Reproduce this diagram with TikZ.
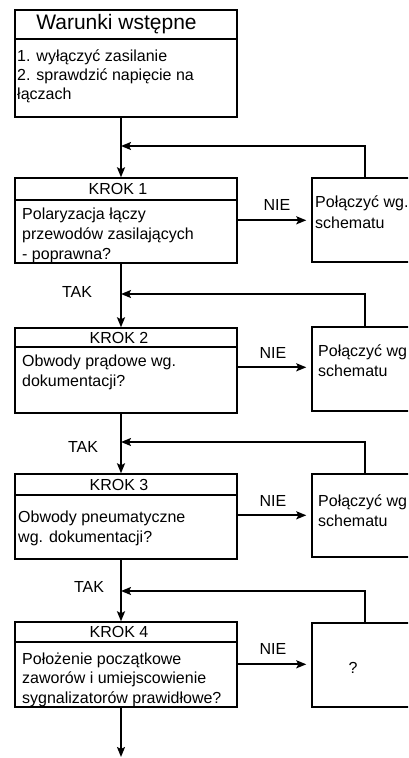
\documentclass[tikz,border=0pt]{standalone}
\usepackage{fontspec}
\setmainfont{Liberation Sans}
\usetikzlibrary{arrows.meta,calc}
\begin{document}
\begin{tikzpicture}[x=1pt,y=-1pt,
  box/.style={draw, line width=1.4pt, inner sep=0pt, minimum width=222pt},
  rbox/.style={draw, line width=1.4pt, inner sep=0pt, minimum width=106pt},
  conn/.style={line width=1.8pt, -{Stealth[length=10pt,width=8pt,inset=2pt]}},
  lbl/.style={font=\fontsize{16}{19}\selectfont, inner sep=0pt},
  bodytxt/.style={inner sep=0pt, align=left, anchor=north west},
]
\clip (0,0) rectangle (408,758);
\fill[white] (0,0) rectangle (408,758);
\coordinate (spine) at (121,0);

% Warunki wstepne
\node[box, minimum height=29pt] (w-head) at (126,24.5) {};
\node[box, minimum height=78pt] (w-body) at (126,78) {};
\node[inner sep=0pt, font=\fontsize{21}{24}\selectfont] (w-title) at (116.5,24) {Warunki wstępne};
\node[bodytxt, font=\fontsize{16}{19}\selectfont] (w-text) at (17,47.7) {\strut 1. wyłączyć zasilanie\\\strut 2. sprawdzić napięcie na\\\strut łączach};

% KROK 1
\node[box, minimum height=22pt] (k1-head) at (126,189) {};
\node[box, minimum height=63pt] (k1-body) at (126,231.5) {};
\node[lbl] (k1-title) at (118,189) {KROK 1};
\node[bodytxt, font=\fontsize{16}{20}\selectfont] (k1-text) at (22,205) {\strut Polaryzacja łączy\\\strut przewodów zasilających\\\strut - poprawna?};
\node[rbox, minimum height=84pt] (r1) at (365,220) {};
\node[bodytxt, font=\fontsize{16}{21}\selectfont] (r1-text) at (315,192.3) {\strut Połączyć wg.\\\strut schematu};
\node[lbl] (nie1) at (277,205) {NIE};
\node[lbl] (tak1) at (77,292) {TAK};

% KROK 2
\node[box, minimum height=19pt] (k2-head) at (126,337.5) {};
\node[box, minimum height=66pt] (k2-body) at (126,380) {};
\node[lbl] (k2-title) at (119,337.5) {KROK 2};
\node[bodytxt, font=\fontsize{16}{20}\selectfont] (k2-text) at (22,352) {\strut Obwody prądowe wg.\\\strut dokumentacji?};
\node[rbox, minimum height=84pt] (r2) at (365,369) {};
\node[bodytxt, font=\fontsize{16}{20}\selectfont] (r2-text) at (318,342) {\strut Połączyć wg\\\strut schematu};
\node[lbl] (nie2) at (273,353) {NIE};
\node[lbl] (tak2) at (83,447) {TAK};

% KROK 3
\node[box, minimum height=21pt] (k3-head) at (126,484.5) {};
\node[box, minimum height=64pt] (k3-body) at (126,527) {};
\node[lbl] (k3-title) at (119,484.5) {KROK 3};
\node[bodytxt, font=\fontsize{16}{20.5}\selectfont] (k3-text) at (18,507.6) {\strut Obwody pneumatyczne\\\strut wg. dokumentacji?};
\node[rbox, minimum height=83pt] (r3) at (365,515.5) {};
\node[bodytxt, font=\fontsize{16}{20}\selectfont] (r3-text) at (318,492) {\strut Połączyć wg\\\strut schematu};
\node[lbl] (nie3) at (273,501) {NIE};
\node[lbl] (tak3) at (89,587) {TAK};

% KROK 4
\node[box, minimum height=20pt] (k4-head) at (126,632) {};
\node[box, minimum height=65pt] (k4-body) at (126,674.5) {};
\node[lbl] (k4-title) at (119,632) {KROK 4};
\node[bodytxt, font=\fontsize{16}{19.5}\selectfont] (k4-text) at (22,650.3) {\strut Położenie początkowe\\\strut zaworów i umiejscowienie\\\strut sygnalizatorów prawidłowe?};
\node[rbox, minimum height=84pt] (r4) at (365,665) {};
\node[lbl] (r4-text) at (353,668) {?};
\node[lbl] (nie4) at (273,649) {NIE};

% junctions
\coordinate (j1) at (121,146);
\coordinate (j2) at (121,294);
\coordinate (j3) at (121,442);
\coordinate (j4) at (121,591);
\coordinate (endpt) at (121,757);

% main flow
\draw[conn] (w-body.south -| spine) -- (k1-head.north -| spine);
\draw[conn] (k1-body.south -| spine) -- (k2-head.north -| spine);
\draw[conn] (k2-body.south -| spine) -- (k3-head.north -| spine);
\draw[conn] (k3-body.south -| spine) -- (k4-head.north -| spine);
\draw[conn] (k4-body.south -| spine) -- (endpt);

% NIE branches
\draw[conn, shorten >=5pt] ([yshift=-21pt]k1-body.north east) -- ([yshift=-21pt]k1-body.north east -| r1.west);
\draw[conn, shorten >=5pt] ([yshift=-21pt]k2-body.north east) -- ([yshift=-21pt]k2-body.north east -| r2.west);
\draw[conn, shorten >=5pt] ([yshift=-21pt]k3-body.north east) -- ([yshift=-21pt]k3-body.north east -| r3.west);
\draw[conn, shorten >=5pt] ([yshift=-23pt]k4-body.north east) -- ([yshift=-23pt]k4-body.north east -| r4.west);

% feedback
\draw[conn] (r1.north) |- (j1);
\draw[conn] (r2.north) |- (j2);
\draw[conn] (r3.north) |- (j3);
\draw[conn] (r4.north) |- (j4);
\end{tikzpicture}
\end{document}
